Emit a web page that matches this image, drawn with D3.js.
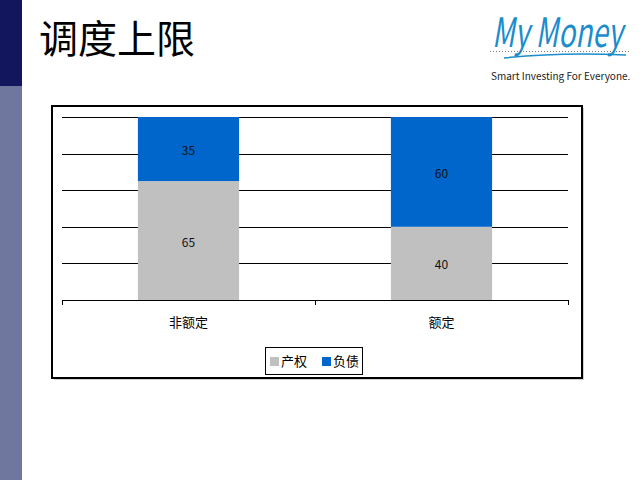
<!DOCTYPE html>
<html>
<head>
<meta charset="utf-8">
<script src="https://cdn.jsdelivr.net/npm/d3@7"></script>
<style>
  body { margin: 0; background: #fff; }
  svg { display: block; }
  text { font-family: "Noto Sans CJK SC", "DejaVu Sans", sans-serif; }
</style>
</head>
<body>
<svg width="640" height="480"></svg>
<script>
const categories = ['非额定', '额定'];
const seriesNames = ['产权', '负债'];
const equity = [65, 40];
const debt = [35, 60];
const yTicks = [0, 20, 40, 60, 80, 100];
const colors = ['#c0c0c0', '#0066cc'];

const svg = d3.select('svg');

// sidebar
svg.append('rect').attr('x', 0).attr('y', 0).attr('width', 22).attr('height', 86).attr('fill', '#12165c');
svg.append('rect').attr('x', 0).attr('y', 86).attr('width', 22).attr('height', 394).attr('fill', '#70779f');

// title
svg.append('text')
    .attr('x', 39).attr('y', 53)
    .attr('font-size', 39)
    .attr('fill', '#000')
    .text('调度上限');

// logo
const logo = svg.append('g').attr('transform', 'translate(490,0)');
logo.append('text')
    .attr('transform', 'translate(2,47) scale(1,1.45)')
    .attr('font-family', '"Liberation Sans", sans-serif')
    .attr('font-style', 'italic')
    .attr('font-size', 28)
    .attr('fill', '#1c8ccd')
    .text('My Money');
logo.append('line')
    .attr('x1', 0).attr('x2', 140).attr('y1', 51.5).attr('y2', 51.5)
    .attr('stroke', '#555').attr('stroke-width', 0.8).attr('stroke-dasharray', '1,2');
logo.append('path')
    .attr('d', 'M14,58 Q70,52 136,55')
    .attr('fill', 'none').attr('stroke', '#1c8ccd').attr('stroke-width', 1.5);
logo.append('text')
    .attr('x', 1).attr('y', 80)
    .attr('font-family', '"Liberation Sans", sans-serif')
    .attr('font-size', 10)
    .attr('fill', '#222')
    .text('Smart Investing For Everyone.');

// chart frame
svg.append('rect').attr('x', 54).attr('y', 108).attr('width', 530).attr('height', 272).attr('fill', '#d0d0d0');
svg.append('rect').attr('x', 52).attr('y', 106).attr('width', 530).attr('height', 272)
    .attr('fill', '#fff').attr('stroke', '#000').attr('stroke-width', 2);

const x = d3.scaleBand().domain(categories).range([62, 568]).paddingInner(0.6).paddingOuter(0.3);
const y = d3.scaleLinear().domain([0, 100]).range([300, 117]);

// gridlines
svg.append('g').selectAll('line').data(yTicks.filter(d => d > 0)).join('line')
    .attr('x1', 62).attr('x2', 568)
    .attr('y1', d => Math.round(y(d)) + 0.5).attr('y2', d => Math.round(y(d)) + 0.5)
    .attr('stroke', '#000').attr('stroke-width', 1);

// stacked bars
const rows = categories.map((c, i) => ({ cat: c, '产权': equity[i], '负债': debt[i] }));
const stack = d3.stack().keys(seriesNames)(rows);

const layers = svg.append('g').selectAll('g').data(stack).join('g')
    .attr('fill', (d, i) => colors[i]);
layers.selectAll('rect').data(d => d).join('rect')
    .attr('x', d => x(d.data.cat))
    .attr('width', x.bandwidth())
    .attr('y', d => y(d[1]))
    .attr('height', d => y(d[0]) - y(d[1]));

layers.selectAll('text').data(d => d).join('text')
    .attr('x', d => x(d.data.cat) + x.bandwidth() / 2)
    .attr('y', d => (y(d[0]) + y(d[1])) / 2 + 6)
    .attr('text-anchor', 'middle')
    .attr('font-family', '"DejaVu Sans", sans-serif')
    .attr('font-size', 12)
    .attr('fill', '#111')
    .text(d => d[1] - d[0]);

// x axis with ticks at band boundaries
const axis = svg.append('g');
axis.append('line').attr('x1', 62).attr('x2', 568).attr('y1', 300.5).attr('y2', 300.5)
    .attr('stroke', '#000');
const bounds = [62, 62 + x.step(), 568];
axis.selectAll('.tk').data(bounds).join('line')
    .attr('x1', d => d + 0.5).attr('x2', d => d + 0.5)
    .attr('y1', 300).attr('y2', 305)
    .attr('stroke', '#000');
axis.selectAll('text').data(categories).join('text')
    .attr('x', d => x(d) + x.bandwidth() / 2)
    .attr('y', 327)
    .attr('text-anchor', 'middle')
    .attr('font-size', 13)
    .text(d => d);

// legend
const legend = svg.append('g');
legend.append('rect').attr('x', 265.5).attr('y', 347.5).attr('width', 97).attr('height', 27)
    .attr('fill', '#fff').attr('stroke', '#000');
const items = legend.selectAll('g').data(seriesNames).join('g')
    .attr('transform', (d, i) => `translate(${270 + i * 52},354)`);
items.append('rect').attr('width', 9).attr('height', 9).attr('y', 3).attr('fill', (d, i) => colors[i]);
items.append('text').attr('x', 11).attr('y', 12).attr('font-size', 13).text(d => d);
</script>
</body>
</html>
